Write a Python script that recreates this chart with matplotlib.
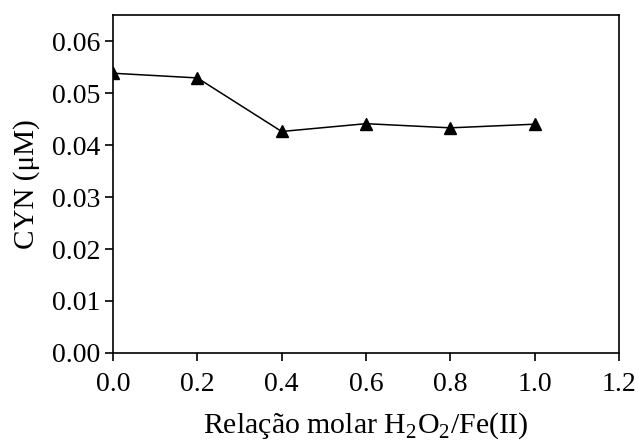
import numpy as np
import matplotlib.pyplot as plt

plt.rcParams['font.family'] = ['Liberation Serif', 'DejaVu Serif']
plt.rcParams['mathtext.fontset'] = 'custom'
plt.rcParams['mathtext.rm'] = 'Liberation Serif'

ratio = [0.0, 0.2, 0.4, 0.6, 0.8, 1.0]
cyn = [0.0538, 0.0529, 0.0426, 0.0441, 0.0433, 0.0440]

fig = plt.figure(figsize=(6.39, 4.40), dpi=100)
ax = fig.add_axes([113/639, 1 - 353/440, (619-113)/639, (353-15)/440])

ax.plot(ratio, cyn, color='black', lw=1.1, marker='^', ms=8)

ax.set_xlim(0, 1.2)
ax.set_ylim(0, 0.065)
ax.set_xticks(np.arange(0, 1.21, 0.2))
ax.set_yticks(np.arange(0, 0.061, 0.01))
ax.set_xticklabels(['%.1f' % t for t in np.arange(0, 1.21, 0.2)])
ax.set_yticklabels(['%.2f' % t for t in np.arange(0, 0.061, 0.01)])
ax.tick_params(direction='out', length=6, width=1.2, labelsize=20, pad=3)
ax.tick_params(axis='x', pad=8)
for s in ax.spines.values():
    s.set_linewidth(1.2)

ax.set_ylabel('CYN (\u03bcM)', fontsize=21, labelpad=9)
ax.set_xlabel('Relação molar H$_2$O$_2$/Fe(II)', fontsize=21.5, labelpad=9)

fig.savefig('out.png', dpi=100)
